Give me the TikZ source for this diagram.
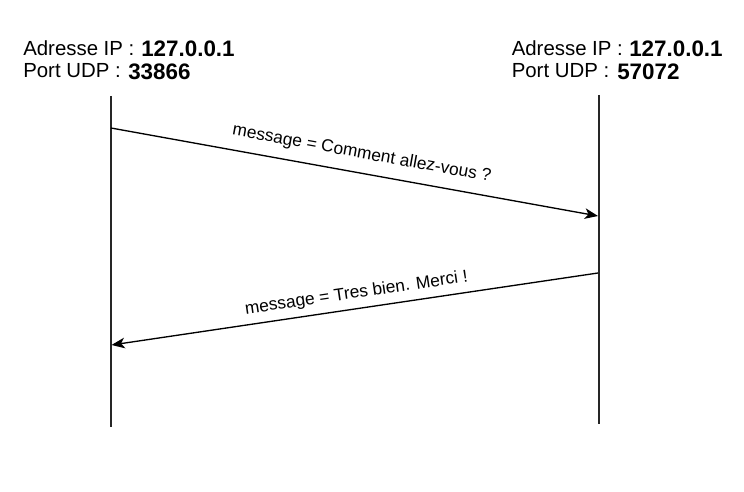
\documentclass[tikz,border=0pt]{standalone}
\usepackage{fontspec}
\setmainfont{Liberation Sans}
\usetikzlibrary{arrows.meta}
\begin{document}
\begin{tikzpicture}[x=0.75pt,y=-0.75pt,
  hdr/.style={anchor=base west,inner sep=0pt,font=\fontsize{15.3pt}{18pt}\selectfont},
  val/.style={anchor=base west,inner sep=0pt,font=\fontsize{16.8pt}{19pt}\selectfont\bfseries},
  lifeline/.style={line width=1pt,black!85},
  msg/.style={line width=1pt,-{Stealth[length=10pt,width=8pt,inset=2.8pt]}},
  msglbl/.style={sloped,inner sep=0pt,font=\fontsize{13pt}{15pt}\selectfont}]
\useasboundingbox (0,0) rectangle (744,492);
% headers
\node[hdr] (ipA) at (23,55.5) {Adresse IP :};
\node[val] (ipAv) at (141,56.5) {127.0.0.1};
\node[hdr] (portA) at (23,78) {Port UDP :};
\node[val] (portAv) at (128,79.5) {33866};
\node[hdr] (ipB) at (511.5,55.5) {Adresse IP :};
\node[val] (ipBv) at (629,56.5) {127.0.0.1};
\node[hdr] (portB) at (511.5,78) {Port UDP :};
\node[val] (portBv) at (617,79.5) {57072};
% lifelines
\coordinate (aTop) at (111,96);
\coordinate (aBot) at (111,427);
\coordinate (bTop) at (599,95);
\coordinate (bBot) at (599,424);
\draw[lifeline] (aTop) -- (aBot);
\draw[lifeline] (bTop) -- (bBot);
% messages
\coordinate (m1s) at (111,128);
\coordinate (m1e) at (598,216);
\coordinate (m2s) at (598,273);
\coordinate (m2e) at (111.5,345);
\draw[msg] (m1s) -- node[msglbl,pos=0.508,above=7.8pt] (l1) {message = Comment allez-vous ?} (m1e);
\draw[msg] (m2s) -- node[msglbl,pos=0.492,above=4.7pt] (l2) {message = Tres bien. Merci !} (m2e);
\end{tikzpicture}
\end{document}
